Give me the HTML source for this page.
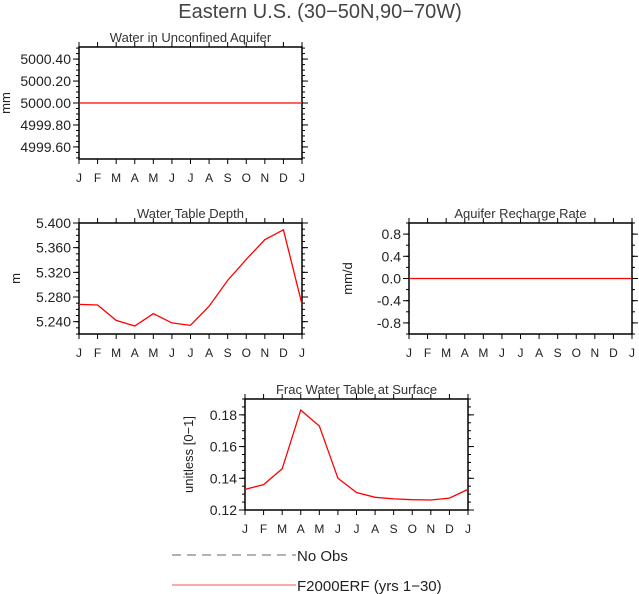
<!DOCTYPE html>
<html><head><meta charset="utf-8"><style>
html,body{margin:0;padding:0;background:#fff}
svg{display:block;font-family:"Liberation Sans",sans-serif}
</style></head><body>
<svg id="c" width="639" height="594" xmlns="http://www.w3.org/2000/svg">
<text x="320" y="18" text-anchor="middle" font-size="20" fill="#444">Eastern U.S. (30−50N,90−70W)</text>
<g id="legend">
<line x1="172" y1="555" x2="296" y2="555" stroke="#666" stroke-dasharray="9,6"/>
<text x="297" y="561" font-size="15" fill="#222">No Obs</text>
<line x1="172" y1="585" x2="296" y2="585" stroke="#f55"/>
<text x="297" y="591" font-size="15" fill="#222">F2000ERF (yrs 1−30)</text>
</g>
</svg>
<script>
const months=["J","F","M","A","M","J","J","A","S","O","N","D","J"];
const aquiferValues=[5000,5000,5000,5000,5000,5000,5000,5000,5000,5000,5000,5000,5000];
const aquiferTicks=[4999.6,4999.8,5000.0,5000.2,5000.4];
const wtdValues=[5.268,5.267,5.242,5.233,5.253,5.238,5.234,5.265,5.307,5.341,5.373,5.389,5.268];
const wtdTicks=[5.24,5.28,5.32,5.36,5.40];
const rechargeValues=[0,0,0,0,0,0,0,0,0,0,0,0,0];
const rechargeTicks=[-0.8,-0.4,0,0.4,0.8];
const fracValues=[0.133,0.136,0.146,0.183,0.173,0.140,0.131,0.128,0.127,0.1265,0.1263,0.1275,0.133];
const fracTicks=[0.12,0.14,0.16,0.18];

const svg=document.getElementById('c');
const NS="http://www.w3.org/2000/svg";
function mk(tag,attrs,parent){const e=document.createElementNS(NS,tag);for(const k in attrs)e.setAttribute(k,attrs[k]);(parent||svg).appendChild(e);return e;}

function panel(o){
  const g=mk('g',{});
  
  
  const {x,y,w,h,ymin,ymax}=o;
  const sx=i=>x+i*w/12;
  const sy=v=>y+h-(v-ymin)/(ymax-ymin)*h;
  const t=mk('text',{x:x+w/2,y:y-5,'text-anchor':'middle','font-size':13,fill:'#333'},g);
  t.textContent=o.title;
  
  
  mk('rect',{x:x,y:y,width:w,height:h,fill:'none',stroke:'#000','stroke-width':1.5},g);
  for(let i=0;i<months.length;i++){
    const px=sx(i);
    mk('line',{x1:px,y1:y+h,x2:px,y2:y+h+5,stroke:'#000'},g);
    mk('line',{x1:px,y1:y,x2:px,y2:y-5,stroke:'#000'},g);
    const lt=mk('text',{x:px,y:y+h+23,'text-anchor':'middle','font-size':12,fill:'#222'},g);
    lt.textContent=months[i];
    
    
  }
  const step=o.ticks[1]-o.ticks[0], minor=step/o.nminor;
  for(let v=o.ticks[0]-step*3;v<=ymax+1e-9;v+=minor){
    if(v<ymin-1e-9)continue;
    const py=sy(v);
    mk('line',{x1:x,y1:py,x2:x-3,y2:py,stroke:'#000'},g);
    mk('line',{x1:x+w,y1:py,x2:x+w+3,y2:py,stroke:'#000'},g);
  }
  o.ticks.forEach(v=>{
    const py=sy(v);
    mk('line',{x1:x,y1:py,x2:x-6,y2:py,stroke:'#000'},g);
    mk('line',{x1:x+w,y1:py,x2:x+w+6,y2:py,stroke:'#000'},g);
    const lt=mk('text',{x:x-8,y:py+5,'text-anchor':'end','font-size':14,fill:'#222'},g);
    lt.textContent=v.toFixed(o.dec);
    
    
  });
  if(o.ylabel){
    const yl=mk('text',{transform:`translate(${o.ylx},${y+h/2}) rotate(-90)`,'text-anchor':'middle','font-size':13,fill:'#222'},g);
    yl.textContent=o.ylabel;
    
    
  }
  const pts=o.vals.map((v,i)=>sx(i)+','+sy(v)).join(' ');
  const pl=mk('polyline',{points:pts,fill:'none',stroke:'#f00','stroke-width':1.3},g);
  
  
}
panel({name:'panel-water-unconfined-aquifer',title:'Water in Unconfined Aquifer',x:79,y:47,w:223,h:112,ymin:4999.49,ymax:5000.51,ticks:aquiferTicks,nminor:4,dec:2,vals:aquiferValues,ylabel:'mm',ylx:10});
panel({name:'panel-water-table-depth',title:'Water Table Depth',x:79,y:223,w:223,h:111,ymin:5.220,ymax:5.400,ticks:wtdTicks,nminor:4,dec:3,vals:wtdValues,ylabel:'m',ylx:20});
panel({name:'panel-aquifer-recharge',title:'Aquifer Recharge Rate',x:409,y:223,w:223,h:111,ymin:-1,ymax:1,ticks:rechargeTicks,nminor:2,dec:1,vals:rechargeValues,ylabel:'mm/d',ylx:352});
panel({name:'panel-frac-water-table',title:'Frac Water Table at Surface',x:245,y:399,w:223,h:111,ymin:0.12,ymax:0.19,ticks:fracTicks,nminor:4,dec:2,vals:fracValues,ylabel:'unitless [0−1]',ylx:193});
</script>
</body></html>
